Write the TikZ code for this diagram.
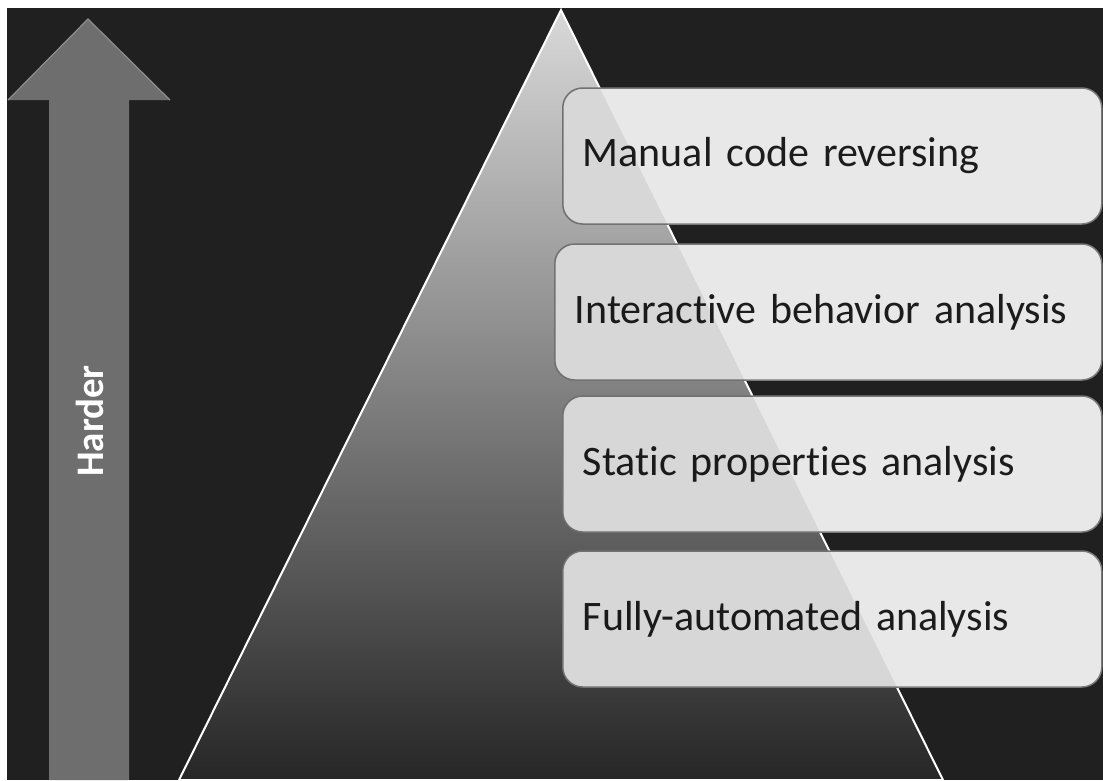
\documentclass[tikz,border=0pt]{standalone}
\usepackage{fontspec}
\setmainfont{Carlito}[Ligatures=NoCommon]
\usetikzlibrary{positioning}

\definecolor{sfondo}{HTML}{202020}
\definecolor{freccia}{HTML}{6E6E6E}
\definecolor{bordofreccia}{HTML}{8E8E8E}
\definecolor{riquadro}{HTML}{E8E8E8}
\definecolor{bordoriquadro}{HTML}{7A7A7A}
\definecolor{testo}{HTML}{1C1C1C}

\tikzset{
  livello/.style={draw=bordoriquadro, line width=1.5pt, fill=riquadro,
    rounded corners=20pt, anchor=west, minimum height=136pt,
    inner xsep=20pt, inner ysep=0pt, text width=#1, align=left, text=testo,
    font=\fontsize{42}{50}\selectfont},
  livello/.default=499pt
}

\begin{document}
\begin{tikzpicture}[x=1pt,y=-1pt]
\useasboundingbox (0,0) rectangle (1103,780);
\fill[white] (0,0) rectangle (1103,780);
\fill[sfondo] (7,8) rectangle (1103,780);

%Freccia
\fill[freccia] (49,780) -- (49,100) -- (8,100) -- (88,19) -- (170,100) -- (129,100) -- (129,780) -- cycle;
\draw[bordofreccia, line width=1.2pt] (8,100) -- (88,19) -- (170,100);
\node[rotate=90, text=white, font=\bfseries\fontsize{39}{45}\selectfont] (h) at (90,421) {Harder};

%Piramide
\coordinate (a) at (561,10);
\coordinate (l) at (179,780);
\coordinate (r) at (943,780);
\draw[white, line width=2pt, top color=white!85!black, bottom color=black!85] (l) -- (a) -- (r) -- cycle;

%Livelli
\node[livello] (m) at (562,156) {Manual code reversing};
\node[livello=507pt] (i) at (554,312) {Interactive behavior analysis};
\node[livello] (s) at (562,464) {Static properties analysis};
\node[livello] (f) at (562,619) {Fully-automated analysis};

\foreach \n in {m,i,s,f}{
  \begin{scope}
  \clip[rounded corners=20pt] (\n.north west) rectangle (\n.south east);
  \fill[black, opacity=.07] (l) -- (a) -- (r) -- cycle;
  \end{scope}
}

\end{tikzpicture}
\end{document}
